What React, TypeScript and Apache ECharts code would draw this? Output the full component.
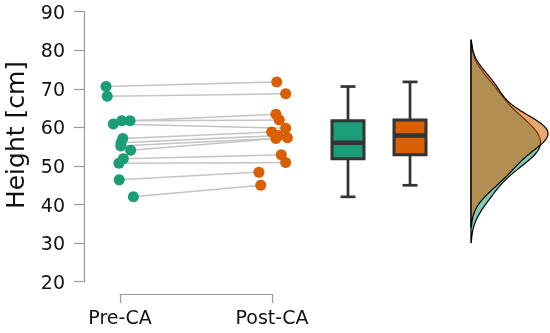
import React, { useEffect, useRef } from "react";
import * as echarts from "echarts";

// Paired observations (one entry per subject)
const groups = ["Pre-CA", "Post-CA"];
const preHeight = [70.6, 68.1, 61.7, 61.7, 60.9, 57.1, 56.0, 55.2, 54.1, 51.9, 50.7, 46.4, 42.0];
const postHeight = [71.8, 68.7, 63.4, 61.9, 59.8, 58.8, 57.9, 57.3, 57.1, 52.9, 50.9, 48.4, 45.0];
// horizontal jitter (in category units)
const preJitter = [-0.092, -0.084, 0.066, 0.011, -0.044, 0.018, 0.007, 0.005, 0.070, 0.022, -0.007, -0.005, 0.088];
const postJitter = [0.031, 0.090, 0.026, 0.048, 0.090, -0.002, 0.041, 0.101, 0.026, 0.061, 0.090, -0.086, -0.074];
const yTicks = [20, 30, 40, 50, 60, 70, 80, 90];

const GREEN = "#1b9e77";
const ORANGE = "#d95f02";
const FONT = "DejaVu Sans";

// layout (x in category units: Pre-CA = 1, Post-CA = 2)
const BOX_POS = [2.5, 2.908];
const DENS_BASE = 3.309;
const DENS_PEAK_W = 0.507;
const BW_ADJUST = 1.15;
const CUT = 2.6;

function quantile(sorted: number[], p: number) {
  const h = (sorted.length - 1) * p;
  const lo = Math.floor(h);
  const hi = Math.min(lo + 1, sorted.length - 1);
  return sorted[lo] + (h - lo) * (sorted[hi] - sorted[lo]);
}
function boxStats(v: number[]) {
  const s = [...v].sort((a, b) => a - b);
  return [s[0], quantile(s, 0.25), quantile(s, 0.5), quantile(s, 0.75), s[s.length - 1]];
}
function kde(v: number[]) {
  const n = v.length;
  const s = [...v].sort((a, b) => a - b);
  const mean = v.reduce((a, b) => a + b, 0) / n;
  const sd = Math.sqrt(v.reduce((a, b) => a + (b - mean) ** 2, 0) / (n - 1));
  const iqr = quantile(s, 0.75) - quantile(s, 0.25);
  const bw = BW_ADJUST * 0.9 * Math.min(sd, iqr / 1.34) * Math.pow(n, -0.2);
  const lo = s[0] - CUT * bw;
  const hi = s[n - 1] + CUT * bw;
  const pts: [number, number][] = [];
  const N = 200;
  for (let i = 0; i <= N; i++) {
    const y = lo + ((hi - lo) * i) / N;
    let d = 0;
    for (const x of v) d += Math.exp(-0.5 * ((y - x) / bw) ** 2);
    d /= n * bw * Math.sqrt(2 * Math.PI);
    pts.push([y, d]);
  }
  return pts;
}

export default function App() {
  const ref = useRef<HTMLDivElement>(null);
  useEffect(() => {
    if (!ref.current) return;
    const chart = echarts.init(ref.current, undefined, { renderer: "svg" });

    const preD = kde(preHeight);
    const postD = kde(postHeight);
    const maxD = Math.max(...postD.map((p) => p[1]));
    const scale = DENS_PEAK_W / maxD;
    const toPoly = (d: [number, number][]) => {
      const pts: number[][] = [[DENS_BASE, d[d.length - 1][0]]];
      for (let i = d.length - 1; i >= 0; i--) pts.push([DENS_BASE + d[i][1] * scale, d[i][0]]);
      pts.push([DENS_BASE, d[0][0]]);
      return pts;
    };
    const polys = [toPoly(preD), toPoly(postD)];
    const boxes = [boxStats(preHeight), boxStats(postHeight)];
    const colors = [GREEN, ORANGE];
    const fills = ["rgba(27,158,119,0.55)", "rgba(217,95,2,0.55)"];

    const pairLines = preHeight.map((v, i) => ({
      coords: [
        [1 + preJitter[i], v],
        [2 + postJitter[i], postHeight[i]],
      ],
    }));

    chart.setOption({
      animation: false,
      grid: [
        { left: 84, right: 0, top: 11.7, bottom: 51.3 },
        { left: 120, width: 152, top: 11.7, bottom: 39 },
      ],
      xAxis: [
        { type: "value", gridIndex: 0, min: 0.76316, max: 3.82895, show: false },
        {
          type: "value",
          gridIndex: 1,
          min: 1,
          max: 2,
          interval: 1,
          axisLine: { show: true, lineStyle: { color: "#9a9a9a", width: 1.2 } },
          axisTick: { show: true, length: 9, lineStyle: { color: "#9a9a9a", width: 1.2 } },
          splitLine: { show: false },
          axisLabel: {
            margin: 13,
            fontSize: 19,
            fontFamily: FONT,
            color: "#111",
            formatter: (v: number) => groups[Math.round(v) - 1] ?? "",
          },
        },
      ],
      yAxis: [
        {
          type: "value",
          gridIndex: 0,
          min: yTicks[0],
          max: yTicks[yTicks.length - 1],
          interval: 10,
          axisLine: { show: true, lineStyle: { color: "#9a9a9a", width: 1.2 } },
          axisTick: { show: true, length: 10, lineStyle: { color: "#9a9a9a", width: 1.2 } },
          splitLine: { show: false },
          axisLabel: { margin: 19, fontSize: 19, fontFamily: FONT, color: "#111" },
        },
        { type: "value", gridIndex: 1, min: 20, max: 90, show: false },
      ],
      graphic: [
        {
          type: "text",
          x: 15,
          y: 135,
          rotation: Math.PI / 2,
          style: {
            text: "Height [cm]",
            fontSize: 25,
            fontFamily: FONT,
            fill: "#111",
            align: "center",
            verticalAlign: "middle",
          },
        },
      ],
      series: [
        {
          type: "lines",
          coordinateSystem: "cartesian2d",
          xAxisIndex: 0,
          yAxisIndex: 0,
          polyline: false,
          data: pairLines,
          lineStyle: { color: "#c4c4c4", width: 1.5, opacity: 1 },
          silent: true,
          z: 1,
        },
        {
          type: "scatter",
          xAxisIndex: 0,
          yAxisIndex: 0,
          symbolSize: 11,
          itemStyle: { color: GREEN, opacity: 1 },
          data: preHeight.map((v, i) => [1 + preJitter[i], v]),
          z: 3,
        },
        {
          type: "scatter",
          xAxisIndex: 0,
          yAxisIndex: 0,
          symbolSize: 11,
          itemStyle: { color: ORANGE, opacity: 1 },
          data: postHeight.map((v, i) => [2 + postJitter[i], v]),
          z: 3,
        },
        {
          type: "custom",
          xAxisIndex: 0,
          yAxisIndex: 0,
          data: boxes.map((b, i) => [BOX_POS[i], ...b]),
          renderItem: (params: any, api: any) => {
            const i = params.dataIndex;
            const x = api.value(0);
            const [mn, q1, md, q3, mx] = [1, 2, 3, 4, 5].map((k) => api.value(k));
            const pMin = api.coord([x, mn]);
            const pQ1 = api.coord([x, q1]);
            const pMd = api.coord([x, md]);
            const pQ3 = api.coord([x, q3]);
            const pMax = api.coord([x, mx]);
            const cx = pMin[0];
            const hw = 16;
            const cw = 7.5;
            const dark = "#333";
            return {
              type: "group",
              children: [
                { type: "line", shape: { x1: cx, y1: pMax[1], x2: cx, y2: pQ3[1] }, style: { stroke: dark, lineWidth: 2.7 } },
                { type: "line", shape: { x1: cx, y1: pQ1[1], x2: cx, y2: pMin[1] }, style: { stroke: dark, lineWidth: 2.7 } },
                { type: "line", shape: { x1: cx - cw, y1: pMax[1], x2: cx + cw, y2: pMax[1] }, style: { stroke: dark, lineWidth: 2.7 } },
                { type: "line", shape: { x1: cx - cw, y1: pMin[1], x2: cx + cw, y2: pMin[1] }, style: { stroke: dark, lineWidth: 2.7 } },
                {
                  type: "rect",
                  shape: { x: cx - hw, y: pQ3[1], width: hw * 2, height: pQ1[1] - pQ3[1] },
                  style: { fill: colors[i], stroke: dark, lineWidth: 3 },
                },
                { type: "line", shape: { x1: cx - hw, y1: pMd[1], x2: cx + hw, y2: pMd[1] }, style: { stroke: dark, lineWidth: 4.5 } },
              ],
            };
          },
          z: 2,
        },
        ...polys.map((poly, gi) => ({
          type: "custom",
          xAxisIndex: 0,
          yAxisIndex: 0,
          data: [[DENS_BASE, 50]],
          renderItem: (_p: any, api: any) => ({
            type: "polygon",
            shape: { points: poly.map((p) => api.coord(p)) },
            style: { fill: fills[gi], stroke: "#000", lineWidth: 1.2 },
          }),
          z: 2 + gi,
          silent: true,
        })),
      ],
    });
    return () => chart.dispose();
  }, []);
  return <div ref={ref} style={{ position: "fixed", left: 0, top: 0, width: 550, height: 333 }} />;
}
